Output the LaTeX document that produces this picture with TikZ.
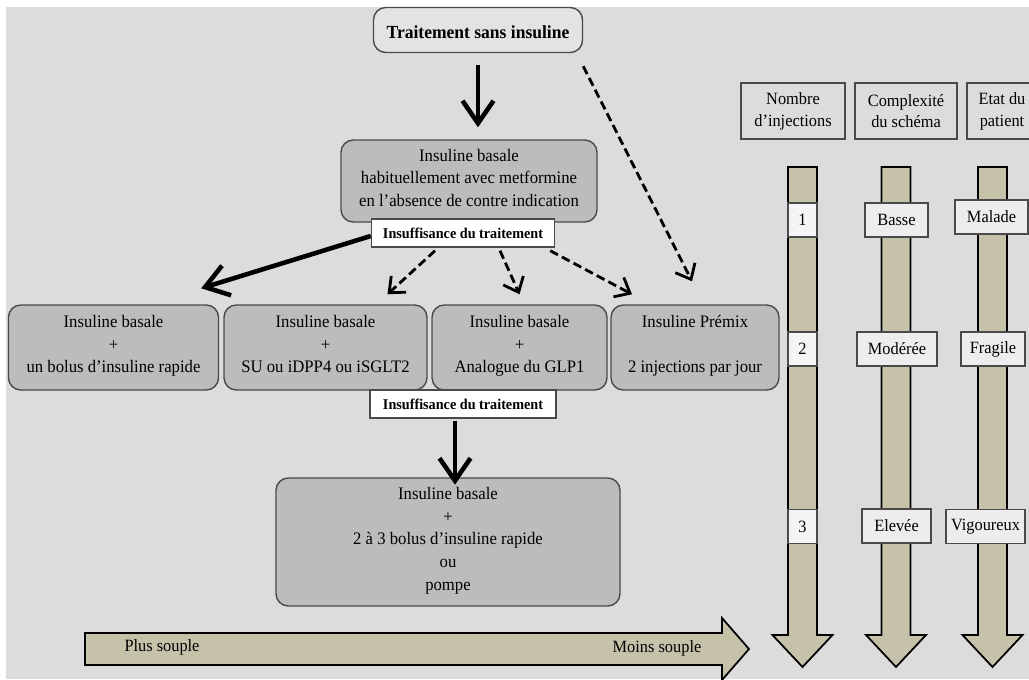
\documentclass[tikz,border=0pt]{standalone}
\usepackage{fontspec}
\setmainfont{Liberation Serif}[FakeStretch=0.95]
\usetikzlibrary{positioning, arrows.meta, calc}

\definecolor{bggray}{HTML}{DCDCDC}
\definecolor{boxgray}{HTML}{BCBCBC}
\definecolor{lightbox}{HTML}{E3E3E3}
\definecolor{tagfill}{HTML}{EDEDED}
\definecolor{khaki}{HTML}{C6C1A9}
\definecolor{edge}{HTML}{4A4A4A}

\begin{document}
\begin{tikzpicture}[
    x=0.2mm, y=-0.2mm,
    font=\fontsize{10}{12.9}\selectfont,
    box/.style={draw=edge, line width=0.8pt, rounded corners=7pt, align=center, inner sep=0pt,
        execute at begin node={\rule{0pt}{13pt}}, execute at end node=\strut},
    graybox/.style={box, fill=boxgray},
    insbox/.style={draw=edge, fill=white, line width=0.8pt, inner sep=0pt, minimum width=#1, minimum height=0.56cm, font=\bfseries\fontsize{8.5}{10}\selectfont},
    thickarrow/.style={-{Straight Barb[length=4.5mm, width=6.2mm]}, line width=2.6pt, draw=black},
    dasharrow/.style={-{Straight Barb[length=2.6mm, width=4.4mm]}, line width=1.6pt, dash pattern=on 5pt off 2.5pt, draw=black},
    headbox/.style={draw=edge, line width=0.8pt, align=center, inner sep=0pt, minimum height=1.12cm, font=\fontsize{9.8}{12.4}\selectfont},
    tagbox/.style={draw=edge, fill=tagfill, line width=0.8pt, inner sep=0pt, minimum height=0.68cm, font=\fontsize{9.8}{11}\selectfont},
    bigarrow/.style={draw=black, fill=khaki, line width=1pt, line join=miter}
]

% Background
\useasboundingbox (0,0) rectangle (1029,679);
\fill[white] (0,0) rectangle (1029,679);
\fill[bggray] (6,7) rectangle (1029,679);

% Flow of treatments
\node[box, fill=lightbox, minimum width=4.18cm, minimum height=0.9cm, font=\bfseries\fontsize{10.5}{12}\selectfont] (start) at (478,30) {Traitement sans insuline};
\node[graybox, minimum width=5.12cm, minimum height=1.64cm] (basal) at (469,181)
    {Insuline basale\\habituellement avec metformine\\en l'absence de contre indication};
\node[insbox=3.66cm] (ins1) at (463,233) {Insuffisance du traitement};

\node[graybox, minimum width=4.2cm, minimum height=1.7cm] (b1) at (113.5,347.5) {Insuline basale\\+\\un bolus d'insuline rapide};
\node[graybox, minimum width=4.06cm, minimum height=1.7cm] (b2) at (325.5,347.5) {Insuline basale\\+\\SU ou iDPP4 ou iSGLT2};
\node[graybox, minimum width=3.5cm, minimum height=1.7cm] (b3) at (519.5,347.5) {Insuline basale\\+\\Analogue du GLP1};
\node[graybox, minimum width=3.36cm, minimum height=1.7cm] (b4) at (695,347.5) {Insuline Prémix\\[12.9pt]2 injections par jour};

\node[insbox=3.72cm] (ins2) at (463,404) {Insuffisance du traitement};
\node[graybox, minimum width=6.88cm, minimum height=2.56cm] (intens) at (448,542)
    {Insuline basale\\+\\2 à 3 bolus d'insuline rapide\\ou\\pompe};

% Connectors
\draw[thickarrow] ($(start.south)+(0,12)$) -- ($(start.south |- basal.north)+(0,-12)$);
\draw[dasharrow] ($(start.south east)+(0,13)$) -- ($(b4.north)+(-3,-23)$);
\draw[thickarrow] ($(ins1.west)+(0,3)$) -- ($(b1.north east)+(-18,-16)$);
\draw[dasharrow] ($(ins1.south)+(-28,3)$) -- ($(b2.north)+(62,-10)$);
\draw[dasharrow] ($(ins1.south)+(37,3)$) -- ($(b3.north)+(0,-10)$);
\draw[dasharrow] ($(ins1.south east)+(-5,3)$) -- ($(b4.north)+(-63,-10)$);
\draw[thickarrow] ($(ins2.south)+(-8,2)$) -- ($(ins2.south)+(-8,66)$);

% Flexibility bar
\draw[bigarrow] (85,633) -- (722,633) -- (722,618) -- (749,649) -- (722,680) -- (722,665) -- (85,665) -- cycle;
\node[font=\fontsize{9.8}{11}\selectfont] (soft) at (162,647) {Plus souple};
\node[font=\fontsize{9.8}{11}\selectfont] (hard) at (657,648) {Moins souple};

% Column headers
\node[headbox, minimum width=2.08cm] (h1) at (793,111) {Nombre\\d'injections};
\node[headbox, minimum width=2.04cm] (h2) at (906,111) {Complexité\\du schéma};
\node[headbox, minimum width=1.4cm] (h3) at (1002,111) {Etat du\\patient};

% Vertical scales
\foreach \cx in {802.5, 896, 992.5} {
    \draw[bigarrow] (\cx-14.5,167) -- (\cx+14.5,167) -- (\cx+14.5,635) -- (\cx+30,635)
        -- (\cx,667) -- (\cx-30,635) -- (\cx-14.5,635) -- cycle;
}

\node[tagbox, fill=white!96!black, minimum width=0.58cm] (n1) at (802.5,220) {1};
\node[tagbox, fill=white!96!black, minimum width=0.58cm] (n2) at (802.5,349) {2};
\node[tagbox, fill=white!96!black, minimum width=0.58cm] (n3) at (802.5,526.5) {3};

\node[tagbox, minimum width=1.26cm] (c1) at (896.5,220) {Basse};
\node[tagbox, minimum width=1.6cm] (c2) at (897,349) {Modérée};
\node[tagbox, minimum width=1.38cm] (c3) at (896.5,526) {Elevée};

\node[tagbox, minimum width=1.46cm] (e1) at (991.5,217) {Malade};
\node[tagbox, minimum width=1.28cm] (e2) at (993,349) {Fragile};
\node[tagbox, minimum width=1.58cm] (e3) at (985.5,526.5) {Vigoureux};

\end{tikzpicture}
\end{document}
